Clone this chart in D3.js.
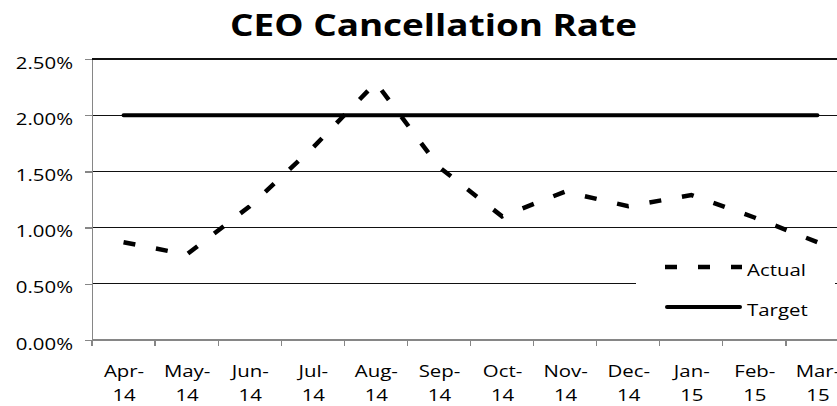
<!DOCTYPE html>
<html><head><meta charset="utf-8">
<script src="https://cdn.jsdelivr.net/npm/d3@7"></script>
<style>
body{margin:0;background:#fff;overflow:hidden}
svg{display:block}
text{font-family:"Open Sans",sans-serif;fill:#000}
</style>
</head><body>
<svg id="c" width="837" height="406"></svg>
<script>
// ---- data ----
const chartTitle = "CEO Cancellation Rate";
const months = ["Apr-14","May-14","Jun-14","Jul-14","Aug-14","Sep-14","Oct-14","Nov-14","Dec-14","Jan-15","Feb-15","Mar-15"];
const actual = [0.0087,0.0076,0.0119,0.0171,0.0229,0.0154,0.0110,0.0132,0.0119,0.0129,0.0109,0.0087];
const target = [0.02,0.02,0.02,0.02,0.02,0.02,0.02,0.02,0.02,0.02,0.02,0.02];
const yTicks = [0,0.005,0.01,0.015,0.02,0.025];
const seriesNames = ["Actual","Target"];

// ---- layout ----
const W = 837, H = 406;
const m = {left:92, top:59, right:849, bottom:340};
const SX = 1.2;       // horizontal stretch of the text
const FS = 17;

const svg = d3.select("#c");
svg.append("rect").attr("width",W).attr("height",H).attr("fill","#fff");

const x = d3.scalePoint().domain(months).range([m.left,m.right]).padding(0.5);
const xb = d3.scaleBand().domain(months).range([m.left,m.right]);
const y = d3.scaleLinear().domain([0,0.025]).range([m.bottom,m.top]);

// title
const t = svg.append("text").text(chartTitle)
  .attr("font-size",30.5).attr("font-weight","bold").attr("text-anchor","middle");
const tw = t.node().getComputedTextLength();
t.attr("transform",`translate(433.5,36) scale(${407/tw},1)`);

// gridlines
svg.append("g").selectAll("line").data(yTicks.filter(d=>d>0)).join("line")
  .attr("x1",m.left).attr("x2",m.right)
  .attr("y1",d=>y(d)).attr("y2",d=>y(d))
  .attr("stroke","#111").attr("stroke-width",1.3).attr("shape-rendering","crispEdges");

// y axis
const gy = svg.append("g").attr("transform",`translate(${m.left},0)`)
  .call(d3.axisLeft(y).tickValues(yTicks).tickSize(7).tickSizeOuter(0).tickFormat(d3.format(".2%")));
gy.select(".domain").attr("stroke","#868686").attr("stroke-width",1.3).attr("shape-rendering","crispEdges");
gy.selectAll(".tick line").attr("stroke","#868686").attr("stroke-width",1.3).attr("shape-rendering","crispEdges");
gy.selectAll(".tick text").attr("x",0).attr("dy",null)
  .attr("font-size",FS).attr("font-family","Open Sans").attr("fill","#000")
  .attr("transform",`translate(-19,9) scale(${SX},1)`);

// x axis
svg.append("line").attr("x1",m.left).attr("x2",m.right).attr("y1",m.bottom).attr("y2",m.bottom)
  .attr("stroke","#868686").attr("stroke-width",1.3).attr("shape-rendering","crispEdges");
const edges = months.map(d=>xb(d)).concat([xb.range()[1]]);
svg.append("g").selectAll("line").data(edges).join("line")
  .attr("x1",d=>d).attr("x2",d=>d).attr("y1",m.bottom).attr("y2",m.bottom+6)
  .attr("stroke","#868686").attr("stroke-width",1.3).attr("shape-rendering","crispEdges");
const gx = svg.append("g").attr("transform",`translate(0,${m.bottom})`)
  .call(d3.axisBottom(x).tickSize(0));
gx.select(".domain").remove();
gx.selectAll(".tick text").each(function(d){
  const el = d3.select(this);
  const i = d.indexOf("-");
  el.text(null).attr("y",0).attr("dy",null)
    .attr("font-size",FS).attr("font-family","Open Sans").attr("fill","#000")
    .attr("transform",`translate(0,37) scale(${SX},1)`);
  el.append("tspan").attr("x",0).attr("dy",0).text(d.slice(0,i+1));
  el.append("tspan").attr("x",0).attr("dy",24).text(d.slice(i+1));
});

// series
const line = d3.line().x((d,i)=>x(months[i])).y(d=>y(d));
svg.append("path").datum(target).attr("d",line)
  .attr("fill","none").attr("stroke","#000").attr("stroke-width",4).attr("stroke-linecap","round");
svg.append("path").datum(actual).attr("d",line)
  .attr("fill","none").attr("stroke","#000").attr("stroke-width",4.5)
  .attr("stroke-dasharray","12,21").attr("stroke-linejoin","miter");

// legend
const lg = svg.append("g");
lg.append("rect").attr("x",636).attr("y",250).attr("width",199).attr("height",75).attr("fill","#fff");
const items = [
  {name:seriesNames[0], y:267, dash:"12,21", cap:"butt", x1:665, x2:742, w:4.5},
  {name:seriesNames[1], y:307, dash:null, cap:"round", x1:667, x2:740, w:4}
];
items.forEach(it=>{
  lg.append("line").attr("x1",it.x1).attr("x2",it.x2).attr("y1",it.y).attr("y2",it.y)
    .attr("stroke","#000").attr("stroke-width",it.w).attr("stroke-linecap",it.cap)
    .attr("stroke-dasharray",it.dash);
  lg.append("text").text(it.name).attr("font-size",FS)
    .attr("transform",`translate(747,${it.y+9}) scale(${SX},1)`);
});
</script>
</body></html>
